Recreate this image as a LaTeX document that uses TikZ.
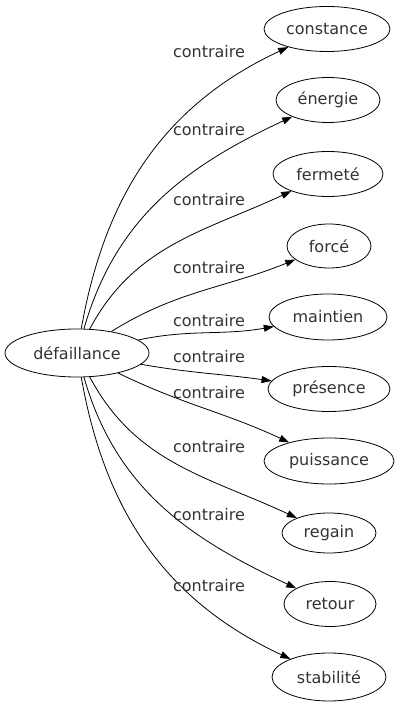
\documentclass[tikz,border=0pt]{standalone}
\usepackage{fontspec}
\setmainfont{DejaVu Sans}
\usetikzlibrary{arrows.meta, shapes.geometric}

\begin{document}
\begin{tikzpicture}[x=1pt, y=1pt, >={Triangle[length=10pt,width=7pt]},
    mot/.style={draw, ellipse, line width=0.8pt, inner sep=0pt, text=black!80, font=\fontsize{16}{19}\selectfont},
    rel/.style={text=black!80, font=\fontsize{16}{19}\selectfont, inner sep=0pt},
    lien/.style={->, line width=0.8pt}]
    \useasboundingbox (0,0) rectangle (400,707);

    % --- Mot de départ ---
    \node[mot, minimum width=144pt, minimum height=48pt] (defaillance) at (77,354) {défaillance};

    % --- Mots contraires ---
    \node[mot, minimum width=126pt, minimum height=45pt] (constance) at (327,678) {constance};
    \node[mot, minimum width=104pt, minimum height=45pt] (energie) at (328,607) {énergie};
    \node[mot, minimum width=110pt, minimum height=45pt] (fermete) at (328,533) {fermeté};
    \node[mot, minimum width=84pt, minimum height=44pt] (force) at (329,461) {forcé};
    \node[mot, minimum width=118pt, minimum height=46pt] (maintien) at (328,390) {maintien};
    \node[mot, minimum width=122pt, minimum height=45pt] (presence) at (329,318) {présence};
    \node[mot, minimum width=130pt, minimum height=46pt] (puissance) at (329,246) {puissance};
    \node[mot, minimum width=94pt, minimum height=40pt] (regain) at (329,174) {regain};
    \node[mot, minimum width=92pt, minimum height=45pt] (retour) at (330,103) {retour};
    \node[mot, minimum width=114pt, minimum height=48pt] (stabilite) at (329,30) {stabilité};

    % --- Arêtes ---
    \draw[lien] (defaillance) to[out=80, in=205] (constance);
    \draw[lien] (defaillance) to[out=74, in=205] (energie);
    \draw[lien] (defaillance) to[out=62, in=205] (fermete);
    \draw[lien] (defaillance) to[out=32, in=202] (force);
    \draw[lien] (defaillance) to[out=12, in=190] (maintien);
    \draw[lien] (defaillance) to[out=-10, in=172] (presence);
    \draw[lien] (defaillance) to[out=-26, in=155] (puissance);
    \draw[lien] (defaillance) to[out=-62, in=155] (regain);
    \draw[lien] (defaillance) to[out=-74, in=155] (retour);
    \draw[lien] (defaillance) to[out=-80, in=155] (stabilite);

    % --- Étiquettes ---
    \node[rel] (r1) at (209,655) {contraire};
    \node[rel] (r2) at (209,577) {contraire};
    \node[rel] (r3) at (209,507) {contraire};
    \node[rel] (r4) at (209,439) {contraire};
    \node[rel] (r5) at (209,386) {contraire};
    \node[rel] (r6) at (209,350) {contraire};
    \node[rel] (r7) at (209,314) {contraire};
    \node[rel] (r8) at (209,260) {contraire};
    \node[rel] (r9) at (209,192) {contraire};
    \node[rel] (r10) at (209,121) {contraire};
\end{tikzpicture}
\end{document}
